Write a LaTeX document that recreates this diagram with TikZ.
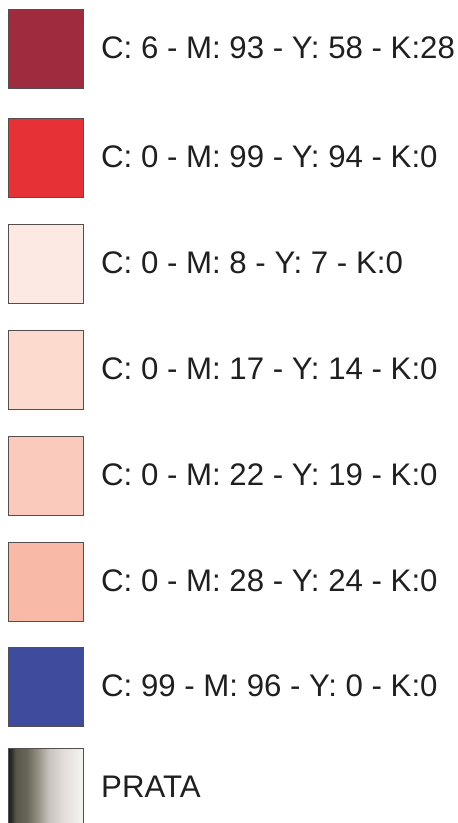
\documentclass[tikz,border=0pt]{standalone}
\usepackage{fontspec}
\setmainfont{Liberation Sans}
\definecolor{c1}{RGB}{158,44,62}
\definecolor{c2}{RGB}{230,50,55}
\definecolor{c3}{RGB}{253,233,228}
\definecolor{c4}{RGB}{252,218,206}
\definecolor{c5}{RGB}{250,202,188}
\definecolor{c6}{RGB}{248,186,166}
\definecolor{c7}{RGB}{62,76,158}
\definecolor{edge}{RGB}{85,78,78}
\definecolor{pa}{RGB}{30,30,30}
\definecolor{pb}{RGB}{45,45,42}
\definecolor{pc}{RGB}{88,86,74}
\definecolor{pd}{RGB}{104,100,88}
\definecolor{pe}{RGB}{145,140,128}
\definecolor{pf}{RGB}{200,195,190}
\definecolor{pg}{RGB}{226,222,218}
\definecolor{ph}{RGB}{246,244,241}
\pgfdeclarehorizontalshading{prata}{100bp}{color(0bp)=(pa); color(25bp)=(pa); color(27bp)=(pb); color(29.7bp)=(pc); color(37bp)=(pd); color(44bp)=(pe); color(52bp)=(pf); color(62bp)=(pg); color(75bp)=(ph); color(100bp)=(ph)}
\begin{document}
\begin{tikzpicture}[x=1pt,y=-1pt,
  swatch/.style={draw=edge, line width=1pt, minimum width=75pt, minimum height=79pt, inner sep=0pt, anchor=north west},
  lbl/.style={anchor=west, inner sep=0pt, font=\fontsize{31.2}{37}\selectfont, text height=22.3pt, text depth=0pt, text=black!88}]
\useasboundingbox[fill=white] (0,0) rectangle (458,823);
\foreach \i/\top/\col/\txt in {1/9/c1/{C: 6 - M: 93 - Y: 58 - K:28},
  2/118/c2/{C: 0 - M: 99 - Y: 94 - K:0},
  3/224/c3/{C: 0 - M: 8 - Y: 7 - K:0},
  4/330/c4/{C: 0 - M: 17 - Y: 14 - K:0},
  5/436/c5/{C: 0 - M: 22 - Y: 19 - K:0},
  6/542/c6/{C: 0 - M: 28 - Y: 24 - K:0},
  7/647/c7/{C: 99 - M: 96 - Y: 0 - K:0}}{
  \node[swatch, fill=\col] (s\i) at (8,\top) {};
  \node[lbl] (t\i) at (101,\top+38) {\txt};
}
\node[swatch, shading=prata, minimum height=80pt] (s8) at (8,748) {};
\node[lbl] (t8) at (101,786) {PRATA};
\end{tikzpicture}
\end{document}
